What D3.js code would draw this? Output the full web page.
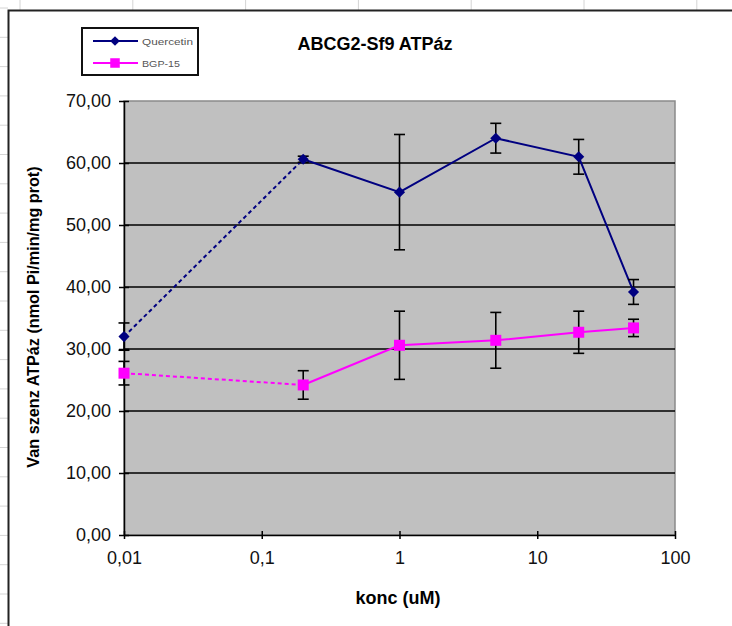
<!DOCTYPE html>
<html>
<head>
<meta charset="utf-8">
<script src="https://cdn.jsdelivr.net/npm/d3@7"></script>
<style>
  body { margin: 0; background: #fff; }
  svg { display: block; font-family: "Liberation Sans", Arial, sans-serif; }
</style>
</head>
<body>
<div id="chart"></div>
<script>
// data
var konc = [0.01, 0.2, 1, 5, 20, 50];
var quercetin = [32.0, 60.6, 55.3, 64.0, 61.0, 39.2];
var quercetinErr = [2.2, 0.5, 9.3, 2.4, 2.8, 2.0];
var bgp15 = [26.1, 24.2, 30.6, 31.4, 32.7, 33.4];
var bgp15Err = [1.9, 2.3, 5.5, 4.5, 3.4, 1.4];
var yTicks = [0, 10, 20, 30, 40, 50, 60, 70];
var xTicks = [0.01, 0.1, 1, 10, 100];
var xTickLabels = ["0,01", "0,1", "1", "10", "100"];

var W = 732, H = 626;
var svg = d3.select("#chart").append("svg")
    .attr("width", W)
    .attr("height", H);

// spreadsheet cells behind the chart
var sheet = svg.append("g").attr("stroke", "#d4d4d4").attr("stroke-width", 1);
d3.range(20, W, 112.8).forEach(function (x) {
    sheet.append("line").attr("x1", x).attr("x2", x).attr("y1", 0).attr("y2", 10);
});
d3.range(8, H, 29.3).forEach(function (y) {
    sheet.append("line").attr("x1", 0).attr("x2", 8).attr("y1", y).attr("y2", y);
});

// chart frame
svg.append("rect")
    .attr("x", 8.5).attr("y", 10.5)
    .attr("width", W + 20).attr("height", H + 20)
    .attr("fill", "#fff")
    .attr("stroke", "#222")
    .attr("stroke-width", 2);

var x = d3.scaleLog().domain([0.01, 100]).range([124, 675]);
var y = d3.scaleLinear().domain([0, 70]).range([535, 101]);

// plot area
svg.append("rect")
    .attr("x", x(0.01)).attr("y", y(70))
    .attr("width", x(100) - x(0.01)).attr("height", y(0) - y(70))
    .attr("fill", "#c0c0c0")
    .attr("stroke", "#8a8a8a")
    .attr("stroke-width", 1.5);

// gridlines
svg.append("g").selectAll("line")
    .data(yTicks.filter(function (d) { return d > 0 && d < 70; }))
    .enter().append("line")
    .attr("x1", x(0.01)).attr("x2", x(100))
    .attr("y1", function (d) { return y(d); })
    .attr("y2", function (d) { return y(d); })
    .attr("stroke", "#000")
    .attr("stroke-width", 1.5);

// axes
var yAxis = svg.append("g")
    .attr("transform", "translate(" + x(0.01) + ",0)")
    .call(d3.axisLeft(y).tickValues(yTicks).tickSize(-5).tickSizeOuter(0)
        .tickFormat(function (d) { return d3.format(".2f")(d).replace(".", ","); }));
yAxis.selectAll(".tick line").attr("x1", -5).attr("x2", 5).attr("stroke-width", 1.5);
yAxis.select(".domain").attr("stroke-width", 1.5);
yAxis.selectAll("text")
    .attr("x", -13)
    .style("font-size", "18px")
    .style("fill", "#111");

var xAxis = svg.append("g")
    .attr("transform", "translate(0," + y(0) + ")")
    .call(d3.axisBottom(x).tickValues(xTicks).tickSizeOuter(0)
        .tickFormat(function (d, i) { return xTickLabels[i]; }));
xAxis.selectAll(".tick line").attr("y1", -4).attr("y2", 4).attr("stroke-width", 1.5);
xAxis.select(".domain").attr("stroke-width", 1.5);
xAxis.selectAll("text")
    .attr("y", 16)
    .style("font-size", "18px")
    .style("fill", "#111");

// titles
svg.append("text")
    .attr("x", 375).attr("y", 50)
    .attr("text-anchor", "middle")
    .style("font-size", "18px").style("font-weight", "bold")
    .text("ABCG2-Sf9 ATPáz");

svg.append("text")
    .attr("x", 398).attr("y", 604)
    .attr("text-anchor", "middle")
    .style("font-size", "18px").style("font-weight", "bold")
    .text("konc (uM)");

svg.append("text")
    .attr("transform", "translate(39," + 317 + ") rotate(-90)")
    .attr("text-anchor", "middle")
    .style("font-size", "16.2px").style("font-weight", "bold")
    .text("Van szenz ATPáz (nmol Pi/min/mg prot)");

// diamond drawn as a rotated square, like the spreadsheet marker
var diamond = {
    draw: function (ctx, size) {
        var r = Math.sqrt(size / 2);
        ctx.moveTo(0, -r); ctx.lineTo(r, 0); ctx.lineTo(0, r); ctx.lineTo(-r, 0); ctx.closePath();
    }
};

// series
var series = [
    { name: "Quercetin", values: quercetin, err: quercetinErr, color: "#000080", shape: diamond, size: 62, lw: 51 },
    { name: "BGP-15", values: bgp15, err: bgp15Err, color: "#ff00ff", shape: d3.symbolSquare, size: 121, lw: 38 }
];

var line = d3.line()
    .x(function (d) { return x(d[0]); })
    .y(function (d) { return y(d[1]); });

series.forEach(function (s) {
    var pts = konc.map(function (k, i) { return [k, s.values[i], s.err[i]]; });
    var g = svg.append("g");

    // first segment dashed, rest solid
    g.append("path")
        .attr("d", line(pts.slice(0, 2)))
        .attr("fill", "none").attr("stroke", s.color)
        .attr("stroke-width", 2).attr("stroke-dasharray", "4,3");
    g.append("path")
        .attr("d", line(pts.slice(1)))
        .attr("fill", "none").attr("stroke", s.color)
        .attr("stroke-width", 2);

    // error bars
    var eb = g.selectAll(".err").data(pts).enter().append("g")
        .attr("stroke", "#000").attr("stroke-width", 1.6);
    eb.append("line")
        .attr("x1", function (d) { return x(d[0]); })
        .attr("x2", function (d) { return x(d[0]); })
        .attr("y1", function (d) { return y(d[1] - d[2]); })
        .attr("y2", function (d) { return y(d[1] + d[2]); });
    [1, -1].forEach(function (sign) {
        eb.append("line")
            .attr("x1", function (d) { return x(d[0]) - 5.5; })
            .attr("x2", function (d) { return x(d[0]) + 5.5; })
            .attr("y1", function (d) { return y(d[1] + sign * d[2]); })
            .attr("y2", function (d) { return y(d[1] + sign * d[2]); });
    });

    // markers
    g.selectAll(".pt").data(pts).enter().append("path")
        .attr("d", d3.symbol().type(s.shape).size(s.size))
        .attr("transform", function (d) { return "translate(" + x(d[0]) + "," + y(d[1]) + ")"; })
        .attr("fill", s.color);
});

// legend
var legend = svg.append("g");
legend.append("rect")
    .attr("x", 82).attr("y", 28).attr("width", 116).attr("height", 47)
    .attr("fill", "#fff").attr("stroke", "#111").attr("stroke-width", 2);
series.forEach(function (s, i) {
    var ly = 41 + i * 22;
    legend.append("line")
        .attr("x1", 93).attr("x2", 138).attr("y1", ly).attr("y2", ly)
        .attr("stroke", s.color).attr("stroke-width", 2);
    legend.append("path")
        .attr("d", d3.symbol().type(s.shape).size(s.size * 0.75))
        .attr("transform", "translate(115," + ly + ")")
        .attr("fill", s.color);
    legend.append("text")
        .attr("x", 142).attr("y", ly + 3.5)
        .attr("textLength", s.lw)
        .attr("lengthAdjust", "spacingAndGlyphs")
        .style("font-size", "9.5px").style("fill", "#555")
        .text(s.name);
});
</script>
</body>
</html>
